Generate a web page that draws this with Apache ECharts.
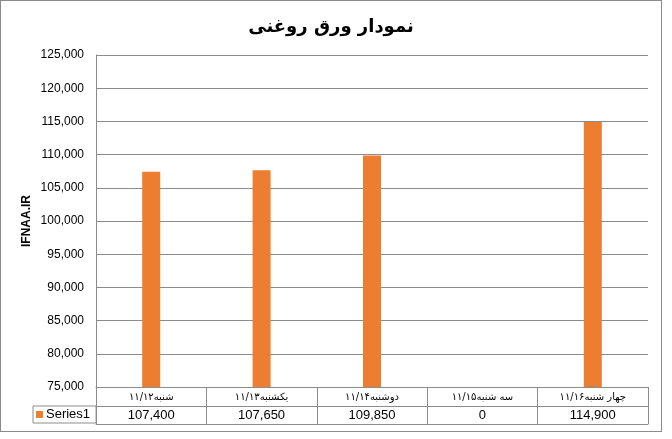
<!DOCTYPE html>
<html>
<head>
<meta charset="utf-8">
<script src="https://cdn.jsdelivr.net/npm/echarts@6/dist/echarts.min.js"></script>
<style>
  html, body { margin: 0; padding: 0; background: #fff; }
  #main { width: 660px; height: 430px; border: 1px solid #8c8c8c; }
</style>
</head>
<body>
<div id="main"></div>
<script>
// categories (days) and values
var days = ['شنبه۱۱/۱۲', 'یکشنبه۱۱/۱۳', 'دوشنبه۱۱/۱۴', 'سه شنبه۱۱/۱۵', 'چهار شنبه۱۱/۱۶'];
var series1 = [107400, 107650, 109850, 0, 114900];
var yTicks = { min: 75000, max: 125000, step: 5000 };

var gray = '#8c8c8c';
var fmt = function (v) { return Number(v).toLocaleString('en-US'); };

var myChart = echarts.init(document.getElementById('main'));

var option = {
  animation: false,
  title: {
    text: 'نمودار ورق روغنی',
    left: 'center',
    top: 12,
    padding: [5, 0, 5, 10],
    textStyle: { fontFamily: 'DejaVu Sans', fontSize: 18, fontWeight: 'bold', color: '#000' }
  },
  legend: {
    data: ['Series1'],
    left: 32,
    top: 405,
    icon: 'rect',
    itemWidth: 7,
    itemHeight: 7,
    itemGap: 0,
    padding: [2, 6, 2, 3],
    borderColor: gray,
    borderWidth: 1,
    textStyle: { fontFamily: 'Liberation Sans', fontSize: 13, color: '#000', padding: [0, 0, 0, -2] }
  },
  grid: { left: 95, right: 13, top: 54, bottom: 44, containLabel: false },
  xAxis: [
    {
      type: 'category',
      data: days,
      axisLine: { show: true, lineStyle: { color: gray } },
      axisTick: { show: true, interval: 0, length: 37, lineStyle: { color: gray } },
      axisLabel: { interval: 0, margin: 5, fontFamily: 'DejaVu Sans', fontSize: 10, color: '#000' }
    },
    {
      type: 'category',
      data: series1.map(fmt),
      position: 'bottom',
      offset: 19,
      axisLine: { show: true, lineStyle: { color: gray } },
      axisTick: { show: false },
      axisLabel: { interval: 0, margin: 3, fontFamily: 'Liberation Sans', fontSize: 13, color: '#000' }
    },
    {
      type: 'category',
      data: days,
      position: 'bottom',
      offset: 37,
      axisLine: { show: true, lineStyle: { color: gray } },
      axisTick: { show: false },
      axisLabel: { show: false }
    }
  ],
  yAxis: {
    type: 'value',
    min: yTicks.min,
    max: yTicks.max,
    interval: yTicks.step,
    name: 'IFNAA.IR',
    nameLocation: 'middle',
    nameRotate: 90,
    nameGap: 63,
    nameMoveOverlap: false,
    nameTextStyle: { fontFamily: 'Liberation Sans', fontSize: 12, fontWeight: 'bold', color: '#000' },
    axisLine: { show: true, lineStyle: { color: gray } },
    axisTick: { show: false },
    axisLabel: { margin: 12, formatter: fmt, fontFamily: 'Liberation Sans', fontSize: 12, color: '#000' },
    splitLine: { show: true, lineStyle: { color: gray } }
  },
  series: [
    {
      name: 'Series1',
      type: 'bar',
      data: series1,
      barWidth: 18,
      clip: true,
      itemStyle: { color: '#ED7D31' }
    }
  ]
};

myChart.setOption(option);
</script>
</body>
</html>
